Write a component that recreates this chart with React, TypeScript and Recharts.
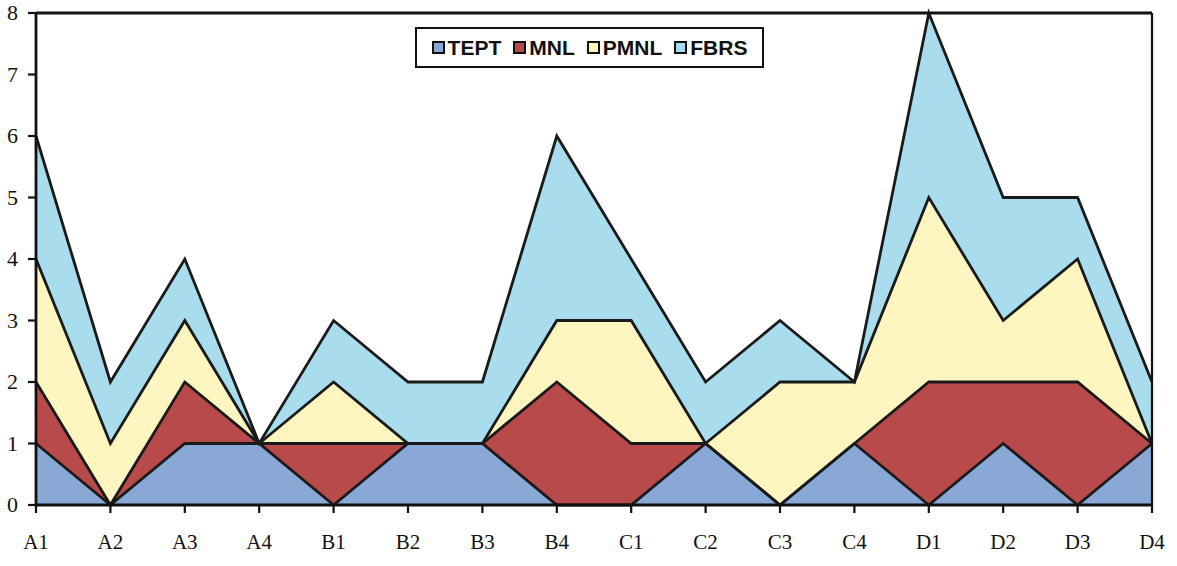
import React from 'react';
import { AreaChart, Area, XAxis, YAxis, ReferenceLine } from 'recharts';

const categories = ['A1','A2','A3','A4','B1','B2','B3','B4','C1','C2','C3','C4','D1','D2','D3','D4'];
const tept = [1,0,1,1,0,1,1,0,0,1,0,1,0,1,0,1];
const mnl  = [1,0,1,0,1,0,0,2,1,0,0,0,2,1,2,0];
const pmnl = [2,1,1,0,1,0,0,1,2,0,2,1,3,1,2,0];
const fbrs = [2,1,1,0,1,1,1,3,1,1,1,0,3,2,1,1];
const yTicks = [0,1,2,3,4,5,6,7,8];

const series = [
  { key: 'TEPT', values: tept, color: '#8aa8d6' },
  { key: 'MNL', values: mnl, color: '#b84a4c' },
  { key: 'PMNL', values: pmnl, color: '#fdf6c0' },
  { key: 'FBRS', values: fbrs, color: '#a9dcec' },
];

const data = categories.map((c, i) => {
  const row: any = { cat: c };
  series.forEach(s => { row[s.key] = s.values[i]; });
  return row;
});

const LegendBox = () => (
  <div style={{
    position: 'absolute', left: 415, top: 27, width: 349, height: 41, boxSizing: 'border-box',
    display: 'flex', alignItems: 'center', justifyContent: 'center', border: '2.5px solid #111', background: '#fff',
    fontFamily: '"Liberation Sans", Arial, sans-serif', fontWeight: 'bold',
    fontSize: 21, color: '#111', lineHeight: '24px'
  }}>
    {series.map((s, i) => (
      <span key={s.key} style={{ display: 'inline-flex', alignItems: 'center', marginRight: i < series.length - 1 ? 12 : 0 }}>
        <span style={{ display: 'inline-block', width: 9, height: 9, background: s.color, border: '2px solid #111', marginRight: 3 }} />
        {s.key}
      </span>
    ))}
  </div>
);

const FONT = '"Liberation Serif", "Times New Roman", serif';

const XTick = (props: any) => {
  const { x, y, payload } = props;
  return (
    <text x={x} y={y} dy={15} textAnchor="middle" fontSize={21} fontFamily={FONT} fill="#111">{payload.value}</text>
  );
};

const YTick = (props: any) => {
  const { x, y, payload } = props;
  return (
    <text x={x} y={y} dy={7} textAnchor="end" fontSize={22} fontFamily={FONT} fill="#111">{payload.value}</text>
  );
};

export default function App() {
  return (
    <div style={{ position: 'absolute', left: 0, top: 0, width: 1177, height: 566, background: '#fff' }}>
      <AreaChart width={1177} height={566} data={data} margin={{ top: 13, right: 25, bottom: 19, left: 0 }}>
        <XAxis dataKey="cat" height={42} tickSize={8} tickMargin={21} axisLine={{ stroke: '#111', strokeWidth: 2.8 }}
          tickLine={{ stroke: '#111', strokeWidth: 2.2 }} tick={<XTick />} interval={0} />
        <YAxis domain={[0, 8]} ticks={yTicks} width={36} tickSize={8} tickMargin={10} axisLine={{ stroke: '#111', strokeWidth: 2.8 }}
          tickLine={{ stroke: '#111', strokeWidth: 2.2 }} tick={<YTick />} />
        {series.map(s => (
          <Area key={s.key} type="linear" dataKey={s.key} stackId="fill" stroke="none"
            fill={s.color} fillOpacity={1} isAnimationActive={false} dot={false} activeDot={false} />
        ))}
        {series.map(s => (
          <Area key={s.key + '-line'} type="linear" dataKey={s.key} stackId="line" stroke="#1a1a1a" strokeWidth={2.8}
            fill="none" fillOpacity={0} isAnimationActive={false} dot={false} activeDot={false} legendType="none" />
        ))}
        <ReferenceLine y={8} stroke="#111" strokeWidth={2.8} />
        <ReferenceLine x="D4" stroke="#111" strokeWidth={2.2} />
      </AreaChart>
      <LegendBox />
    </div>
  );
}
